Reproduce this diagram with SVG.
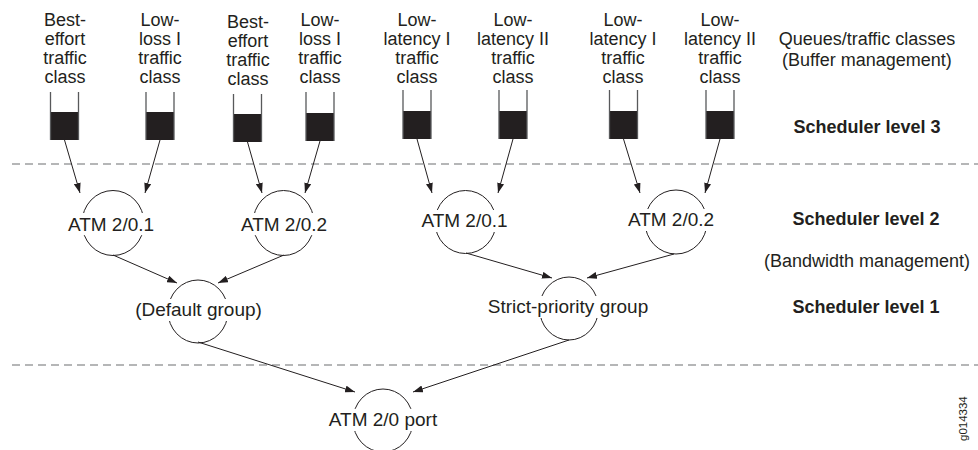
<svg xmlns="http://www.w3.org/2000/svg" width="978" height="450" viewBox="0 0 978 450">
<style>
text{font-family:"Liberation Sans",Arial,sans-serif;fill:#231f20}
.lbl{font-size:18px;text-anchor:middle}
.nt{font-size:19px;text-anchor:middle}
.side{font-size:18px;text-anchor:middle}
.bold{font-weight:bold}
.ring{fill:none;stroke:#231f20;stroke-width:1}
.mask{fill:#fff}
.wall{stroke:#58595b;stroke-width:1.3;fill:none}
.fill{fill:#231f20}
.dash{stroke:#6d6e71;stroke-width:1.2;stroke-dasharray:8 5;fill:none}
.conn{stroke:#231f20;stroke-width:1;fill:none;marker-end:url(#ah)}
</style>
<defs>
<marker id="ah" markerUnits="userSpaceOnUse" markerWidth="10" markerHeight="7" refX="10" refY="3.5" orient="auto">
<path d="M0,0 L10,3.5 L0,7 z" fill="#231f20"/>
</marker>
</defs>
<rect width="978" height="450" fill="#fff"/>
<g id="dividers">
<line class="dash" x1="12" y1="164" x2="978" y2="164"/>
<line class="dash" x1="12" y1="365" x2="978" y2="365"/>
</g>
<g id="queue1">
<text class="lbl"><tspan x="65" y="26">Best-</tspan><tspan x="65" y="45">effort</tspan><tspan x="65" y="64">traffic</tspan><tspan x="65" y="83">class</tspan></text>
<rect class="fill" x="50.5" y="112" width="28" height="28"/>
<path class="wall" d="M50.5,92 V140 M78.5,92 V140"/>
</g>
<g id="queue2">
<text class="lbl"><tspan x="160" y="26">Low-</tspan><tspan x="160" y="45">loss I</tspan><tspan x="160" y="64">traffic</tspan><tspan x="160" y="83">class</tspan></text>
<rect class="fill" x="146" y="112" width="28" height="28"/>
<path class="wall" d="M146,92 V140 M174,92 V140"/>
</g>
<g id="queue3">
<text class="lbl"><tspan x="248" y="28">Best-</tspan><tspan x="248" y="47">effort</tspan><tspan x="248" y="66">traffic</tspan><tspan x="248" y="85">class</tspan></text>
<rect class="fill" x="233.5" y="114" width="28" height="28"/>
<path class="wall" d="M233.5,94 V142 M261.5,94 V142"/>
</g>
<g id="queue4">
<text class="lbl"><tspan x="320" y="26">Low-</tspan><tspan x="320" y="45">loss I</tspan><tspan x="320" y="64">traffic</tspan><tspan x="320" y="83">class</tspan></text>
<rect class="fill" x="306" y="113" width="28" height="28"/>
<path class="wall" d="M306,92 V141 M334,92 V141"/>
</g>
<g id="queue5">
<text class="lbl"><tspan x="417" y="26">Low-</tspan><tspan x="417" y="45">latency I</tspan><tspan x="417" y="64">traffic</tspan><tspan x="417" y="83">class</tspan></text>
<rect class="fill" x="403" y="111" width="28" height="28"/>
<path class="wall" d="M403,90 V139 M431,90 V139"/>
</g>
<g id="queue6">
<text class="lbl"><tspan x="513" y="26">Low-</tspan><tspan x="513" y="45">latency II</tspan><tspan x="513" y="64">traffic</tspan><tspan x="513" y="83">class</tspan></text>
<rect class="fill" x="499" y="111" width="28" height="28"/>
<path class="wall" d="M499,90 V139 M527,90 V139"/>
</g>
<g id="queue7">
<text class="lbl"><tspan x="623" y="26">Low-</tspan><tspan x="623" y="45">latency I</tspan><tspan x="623" y="64">traffic</tspan><tspan x="623" y="83">class</tspan></text>
<rect class="fill" x="609.5" y="111" width="28" height="28"/>
<path class="wall" d="M609.5,90 V139 M637.5,90 V139"/>
</g>
<g id="queue8">
<text class="lbl"><tspan x="720" y="26">Low-</tspan><tspan x="720" y="45">latency II</tspan><tspan x="720" y="64">traffic</tspan><tspan x="720" y="83">class</tspan></text>
<rect class="fill" x="706" y="111" width="28" height="28"/>
<path class="wall" d="M706,90 V139 M734,90 V139"/>
</g>
<g id="connectors">
<line class="conn" x1="64.5" y1="140" x2="80" y2="193"/>
<line class="conn" x1="160" y1="140" x2="145" y2="193"/>
<line class="conn" x1="247.5" y1="142" x2="262" y2="193"/>
<line class="conn" x1="320" y1="141" x2="305" y2="193"/>
<line class="conn" x1="417" y1="139" x2="432" y2="193"/>
<line class="conn" x1="513" y1="139" x2="498" y2="193"/>
<line class="conn" x1="623.5" y1="139" x2="640" y2="193"/>
<line class="conn" x1="720" y1="139" x2="705" y2="193"/>
<line class="conn" x1="113" y1="255" x2="177" y2="283"/>
<line class="conn" x1="284" y1="255" x2="218" y2="283"/>
<line class="conn" x1="466" y1="253" x2="552" y2="278"/>
<line class="conn" x1="674" y1="254" x2="587" y2="278"/>
<line class="conn" x1="198" y1="342" x2="355" y2="392"/>
<line class="conn" x1="569" y1="340" x2="413" y2="392"/>
</g>
<g id="atm-2-0-1-a">
<ellipse class="ring" cx="113" cy="223" rx="31" ry="32.5"/>
<rect class="mask" x="66" y="213" width="90" height="22"/>
<text class="nt" x="111" y="230.5">ATM 2/0.1</text>
</g>
<g id="atm-2-0-2-a">
<ellipse class="ring" cx="283.5" cy="223" rx="30.5" ry="32.5"/>
<rect class="mask" x="239" y="213" width="90" height="22"/>
<text class="nt" x="284" y="230.5">ATM 2/0.2</text>
</g>
<g id="atm-2-0-1-b">
<ellipse class="ring" cx="465.5" cy="222" rx="30.5" ry="31.5"/>
<rect class="mask" x="420" y="210" width="90" height="22"/>
<text class="nt" x="464.5" y="227">ATM 2/0.1</text>
</g>
<g id="atm-2-0-2-b">
<ellipse class="ring" cx="676" cy="222" rx="31" ry="32"/>
<rect class="mask" x="626" y="209" width="90" height="22"/>
<text class="nt" x="671" y="226">ATM 2/0.2</text>
</g>
<g id="default-group">
<ellipse class="ring" cx="198" cy="311.5" rx="30" ry="31.5"/>
<rect class="mask" x="134" y="299" width="129" height="22"/>
<text class="nt" x="198.5" y="316">(Default group)</text>
</g>
<g id="strict-priority-group">
<ellipse class="ring" cx="569" cy="308.5" rx="29.5" ry="31.5"/>
<rect class="mask" x="487" y="296" width="163" height="22"/>
<text class="nt" x="568" y="313">Strict-priority group</text>
</g>
<g id="atm-2-0-port">
<ellipse class="ring" cx="383" cy="420.5" rx="30" ry="31.5"/>
<rect class="mask" x="327" y="409" width="112" height="22"/>
<text class="nt" x="383" y="426">ATM 2/0 port</text>
</g>
<g id="level-labels">
<text class="side" x="867" y="45">Queues/traffic classes</text>
<text class="side" x="867" y="65.5">(Buffer management)</text>
<text class="side bold" x="867" y="133">Scheduler level 3</text>
<text class="side bold" x="866" y="225">Scheduler level 2</text>
<text class="side" x="867" y="267">(Bandwidth management)</text>
<text class="side bold" x="866" y="313">Scheduler level 1</text>
<text x="967" y="441" font-size="11.5" transform="rotate(-90 967 441)">g014334</text>
</g>
</svg>
